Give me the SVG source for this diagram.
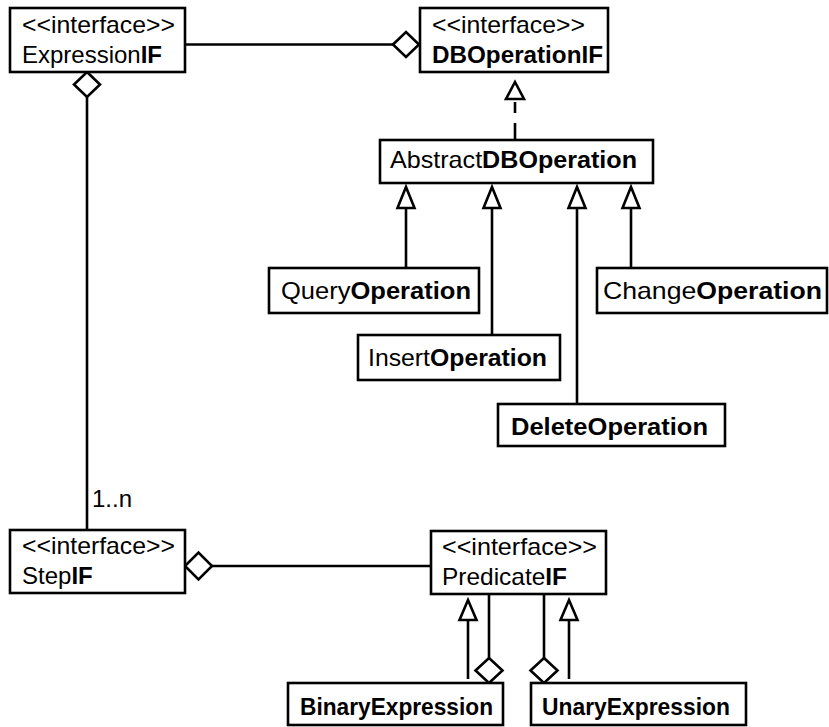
<svg xmlns="http://www.w3.org/2000/svg" width="829" height="727" viewBox="0 0 829 727">
<style>
.box{fill:#fff;stroke:#000;stroke-width:2.6}
.t{font-family:"Liberation Sans",Arial,sans-serif;font-size:24px;fill:#000}
.b{font-weight:bold}
.ln{fill:none;stroke:#000;stroke-width:2.6}
.tri{fill:#fff;stroke:#000;stroke-width:2.6;stroke-linejoin:miter}
.dia{fill:#fff;stroke:#000;stroke-width:2.6;stroke-linejoin:miter}
</style>
<rect width="829" height="727" fill="#fff"/>
<g id="connectors">
  <line class="ln" x1="185" y1="44.5" x2="393" y2="44.5"/>
  <polygon class="dia" points="393,44.5 406,32 419,44.5 406,57"/>
  <polygon class="dia" points="87,72 100,84.5 87,97 74,84.5"/>
  <line class="ln" x1="87" y1="97" x2="87" y2="530"/>
  <text class="t" x="92" y="507" font-size="22" textLength="40" lengthAdjust="spacingAndGlyphs">1..n</text>
  <path class="ln" d="M515 102 V113 M515 123 V140"/>
  <polygon class="tri" points="515,82 524,99 506,99"/>
  <line class="ln" x1="406" y1="208" x2="406" y2="268"/>
  <polygon class="tri" points="406,187 414.5,208 397.5,208"/>
  <line class="ln" x1="492" y1="208" x2="492" y2="335"/>
  <polygon class="tri" points="492,187 500.5,208 483.5,208"/>
  <line class="ln" x1="577" y1="208" x2="577" y2="404"/>
  <polygon class="tri" points="577,187 585.5,208 568.5,208"/>
  <line class="ln" x1="631" y1="208" x2="631" y2="268"/>
  <polygon class="tri" points="631,187 639.5,208 622.5,208"/>
  <polygon class="dia" points="185,566 198.5,552.5 212,566 198.5,579.5"/>
  <line class="ln" x1="212" y1="566" x2="431" y2="566"/>
  <line class="ln" x1="468" y1="620" x2="468" y2="679"/>
  <polygon class="tri" points="468,600 476.5,620 459.5,620"/>
  <line class="ln" x1="489" y1="594" x2="489" y2="658"/>
  <polygon class="dia" points="489,658 502.5,670.5 489,683 475.5,670.5"/>
  <line class="ln" x1="544" y1="594" x2="544" y2="658"/>
  <polygon class="dia" points="544,658 557.5,670.5 544,683 530.5,670.5"/>
  <line class="ln" x1="569" y1="620" x2="569" y2="679"/>
  <polygon class="tri" points="569,600 577.5,620 560.5,620"/>
</g>
<g id="ExpressionIF">
  <rect class="box" x="10" y="8" width="175" height="64"/>
  <text class="t" x="22" y="33" textLength="153" lengthAdjust="spacingAndGlyphs">&lt;&lt;interface&gt;&gt;</text>
  <text class="t" x="22" y="63" textLength="140" lengthAdjust="spacingAndGlyphs">Expression<tspan class="b">IF</tspan></text>
</g>
<g id="DBOperationIF">
  <rect class="box" x="420" y="8" width="188" height="64"/>
  <text class="t" x="432" y="33" textLength="153" lengthAdjust="spacingAndGlyphs">&lt;&lt;interface&gt;&gt;</text>
  <text class="t b" x="432" y="63" textLength="171" lengthAdjust="spacingAndGlyphs">DBOperationIF</text>
</g>
<g id="AbstractDBOperation">
  <rect class="box" x="380" y="140" width="273" height="43"/>
  <text class="t" x="390" y="168" textLength="247" lengthAdjust="spacingAndGlyphs">Abstract<tspan class="b">DBOperation</tspan></text>
</g>
<g id="QueryOperation">
  <rect class="box" x="269" y="268" width="210" height="45"/>
  <text class="t" x="281" y="299" textLength="190" lengthAdjust="spacingAndGlyphs">Query<tspan class="b">Operation</tspan></text>
</g>
<g id="InsertOperation">
  <rect class="box" x="358" y="335" width="202" height="45"/>
  <text class="t" x="368" y="366" textLength="179" lengthAdjust="spacingAndGlyphs">Insert<tspan class="b">Operation</tspan></text>
</g>
<g id="DeleteOperation">
  <rect class="box" x="498" y="404" width="227" height="42"/>
  <text class="t b" x="511" y="435" textLength="197" lengthAdjust="spacingAndGlyphs">DeleteOperation</text>
</g>
<g id="ChangeOperation">
  <rect class="box" x="597" y="268" width="230" height="45"/>
  <text class="t" x="603" y="299" textLength="219" lengthAdjust="spacingAndGlyphs">Change<tspan class="b">Operation</tspan></text>
</g>
<g id="StepIF">
  <rect class="box" x="10" y="530" width="175" height="63"/>
  <text class="t" x="22" y="554" textLength="153" lengthAdjust="spacingAndGlyphs">&lt;&lt;interface&gt;&gt;</text>
  <text class="t" x="22" y="584" font-size="22.5">Step<tspan class="b">IF</tspan></text>
</g>
<g id="PredicateIF">
  <rect class="box" x="431" y="531" width="175" height="63"/>
  <text class="t" x="442" y="555" textLength="155" lengthAdjust="spacingAndGlyphs">&lt;&lt;interface&gt;&gt;</text>
  <text class="t" x="442" y="585" textLength="125" lengthAdjust="spacingAndGlyphs">Predicate<tspan class="b">IF</tspan></text>
</g>
<g id="BinaryExpression">
  <rect class="box" x="288" y="683" width="215" height="42"/>
  <text class="t b" x="300" y="715" textLength="193" lengthAdjust="spacingAndGlyphs">BinaryExpression</text>
</g>
<g id="UnaryExpression">
  <rect class="box" x="531" y="683" width="215" height="42"/>
  <text class="t b" x="542" y="715" textLength="188" lengthAdjust="spacingAndGlyphs">UnaryExpression</text>
</g>
</svg>
